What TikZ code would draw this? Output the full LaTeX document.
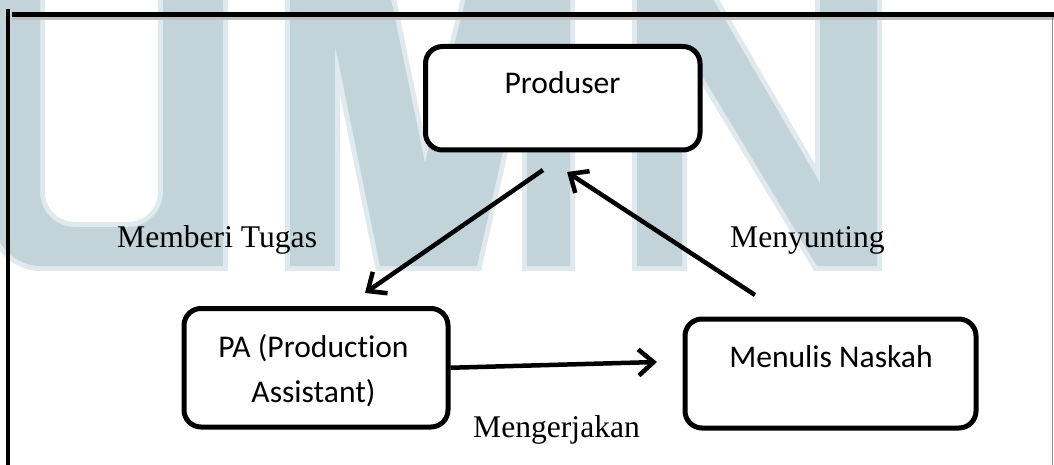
\documentclass[tikz,border=0pt]{standalone}
\usepackage{fontspec}
\setmainfont{Liberation Serif}
\newfontfamily\boxfont[Ligatures=NoCommon]{Carlito}
\usetikzlibrary{arrows.meta}
\definecolor{wm}{RGB}{194,211,218}
\definecolor{wmedge}{RGB}{224,233,237}
\begin{document}
\begin{tikzpicture}[x=1pt,y=-1pt,
  box/.style={draw=black, line width=5pt, rounded corners=17pt, fill=white, inner sep=0pt},
  boxtext/.style={font=\boxfont\fontsize{31.6}{38}\selectfont, inner sep=0pt, anchor=base},
  lab/.style={font=\fontsize{31.6}{38}\selectfont, inner sep=0pt, anchor=base west},
  conn/.style={line width=4.5pt, -{Straight Barb[length=15pt,width=26pt]}},
  wmark/.style={fill=wm, preaction={draw=wmedge, line width=10pt, line join=miter}}]
\useasboundingbox (0,0) rectangle (1054,465);
\clip (0,0) rectangle (1054,465);
\fill[white] (0,0) rectangle (1054,465);

% background lettering U M N
\path[wmark] (-6,-6) -- (-6,219) arc[start angle=180, end angle=90, radius=47]
  -- (223,266) -- (223,-6) -- (163,-6) -- (163,192)
  arc[start angle=0, end angle=90, radius=35] -- (75,227)
  arc[start angle=90, end angle=180, radius=35] -- (40,-6) -- cycle;
\path[wmark] (290,-6) -- (290,266) -- (335,266) -- (335,45) -- (380,266)
  -- (477,266) -- (527,45) -- (527,266) -- (570,266) -- (570,-6)
  -- (467,-6) -- (425,163) -- (390,-6) -- cycle;
\path[wmark] (637,-6) -- (637,266) -- (682,266) -- (682,42) -- (817,266)
  -- (877,266) -- (877,-6) -- (820,-6) -- (820,183) -- (710,-6) -- cycle;

% frame lines
\draw[black!25, line width=3pt] (12,18.5) -- (1054,18.5);
\draw[line width=4.5pt] (12,14.5) -- (1056,14.5);
\draw[line width=4pt] (8,9) -- (8,466);
\draw[black!45, line width=1pt] (1052.5,17) -- (1052.5,466);

% boxes
\node[box, minimum width=274.5pt, minimum height=103.5pt] (prod) at (562.75,98.25) {};
\node[box, minimum width=264pt, minimum height=118.5pt] (pa) at (316,367.75) {};
\node[box, minimum width=291pt, minimum height=109pt] (nas) at (830.5,373.5) {};

\node[boxtext] (prodT) at (562.5,94) {Produser};
\node[boxtext] (paT1) at (313.5,357) {PA (Production};
\node[boxtext] (paT2) at (313.5,402) {Assistant)};
\node[boxtext] (nasT) at (831,367) {Menulis Naskah};

% connectors
\coordinate (g1s) at (543,170);
\coordinate (g1e) at (365,293);
\coordinate (g2s) at (755,295);
\coordinate (g2e) at (567,172);
\coordinate (g3e) at (657,362);
\draw[conn] (g1s) -- (g1e);
\draw[conn] (g2s) -- (g2e);
\draw[conn] (pa.east) -- (g3e);

% connector labels
\node[lab] (l1) at (117,247) {Memberi Tugas};
\node[lab] (l2) at (730,247) {Menyunting};
\node[lab] (l3) at (473,437) {Mengerjakan};
\end{tikzpicture}
\end{document}
